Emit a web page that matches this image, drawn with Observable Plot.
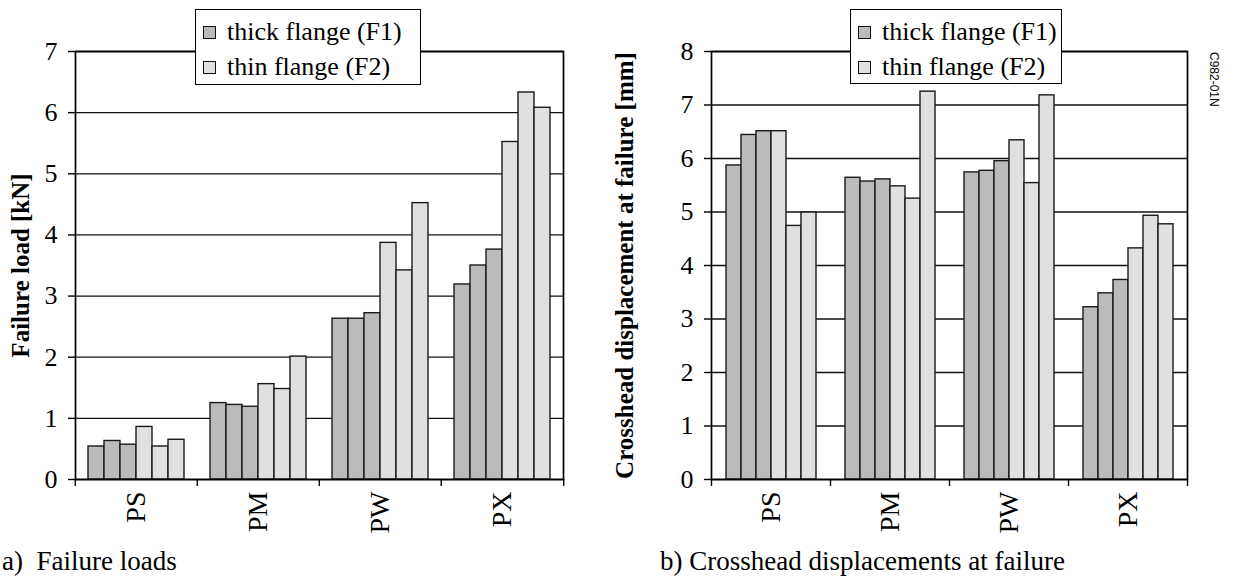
<!DOCTYPE html>
<html><head><meta charset="utf-8">
<script src="https://cdn.jsdelivr.net/npm/d3@7"></script>
<script src="https://cdn.jsdelivr.net/npm/@observablehq/plot@0.6"></script>
<style>
body{margin:0;background:#fff;}
#root{position:relative;width:1239px;height:585px;overflow:hidden;font-family:"Liberation Serif",serif;color:#000;}
.plot{position:absolute;top:0;}
.legend{position:absolute;background:#fff;border:1.5px solid #000;box-sizing:border-box;font-family:"Liberation Serif",serif;font-size:26px;line-height:35px;padding:4px 0 0 7px;white-space:nowrap;}
.sw{display:inline-block;width:11px;height:11px;border:1px solid #111;margin-right:11px;vertical-align:1px;}
.cap{position:absolute;font-family:"Liberation Serif",serif;font-size:27px;line-height:27px;white-space:pre;}
.code{position:absolute;font-family:"Liberation Sans",sans-serif;font-size:12px;writing-mode:vertical-rl;}
svg [aria-label="y-axis label"] text{font-weight:bold;font-size:25px;}
</style></head>
<body><div id="root"></div>
<script>
// Data
const categories = ["PS", "PM", "PW", "PX"];
const seriesNames = ["thick flange (F1)", "thin flange (F2)"];
const seriesFills = ["#bbbbbb", "#e0e0e0"];
// three specimens per category, in category order
const loadF1 = [0.54, 0.63, 0.57, 1.25, 1.22, 1.19, 2.63, 2.63, 2.72, 3.19, 3.50, 3.76];
const loadF2 = [0.86, 0.54, 0.65, 1.56, 1.48, 2.01, 3.87, 3.42, 4.52, 5.52, 6.33, 6.08];
const dispF1 = [5.87, 6.44, 6.51, 5.64, 5.57, 5.61, 5.74, 5.77, 5.95, 3.22, 3.48, 3.73];
const dispF2 = [6.51, 4.74, 4.99, 5.48, 5.25, 7.25, 6.34, 5.54, 7.18, 4.32, 4.93, 4.77];
const loadTicks = [0, 1, 2, 3, 4, 5, 6, 7];
const dispTicks = [0, 1, 2, 3, 4, 5, 6, 7, 8];
const keys = ["F1-0", "F1-1", "F1-2", "F2-0", "F2-1", "F2-2"];

function rows(f1, f2) {
  const out = [];
  categories.forEach((c, k) => {
    for (let j = 0; j < 3; j++) out.push({cat: c, key: "F1-" + j, series: seriesNames[0], value: f1[k * 3 + j]});
    for (let j = 0; j < 3; j++) out.push({cat: c, key: "F2-" + j, series: seriesNames[1], value: f2[k * 3 + j]});
  });
  return out;
}

function chart({data, ticks, label, width, marginLeft, marginRight, labelOffset}) {
  const band = (width - marginLeft - marginRight) / categories.length;
  return Plot.plot({
    width, height: 540, marginLeft, marginRight, marginTop: 51, marginBottom: 61,
    style: {fontFamily: '"Liberation Serif", serif', fontSize: "26px", color: "#000", background: "transparent", overflow: "visible"},
    fx: {domain: categories, padding: 0, label: null},
    x: {domain: keys, paddingInner: 0, paddingOuter: 0.73, axis: null},
    y: {domain: [0, ticks[ticks.length - 1]]},
    color: {domain: seriesNames, range: seriesFills},
    marks: [
      Plot.gridY({ticks, stroke: "#111", strokeOpacity: 1, strokeWidth: 1.3}),
      Plot.barY(data, {fx: "cat", x: "key", y: "value", fill: "series", stroke: "#1a1a1a", strokeWidth: 1.4, inset: 0}),
      Plot.frame({facet: "super", stroke: "#000", strokeWidth: 1.7}),
      Plot.axisY({ticks, tickSize: 7, tickPadding: 11, tickFormat: d3.format("d"), label, labelArrow: "none", labelAnchor: "center", labelOffset, stroke: "#000", strokeWidth: 1.4}),
      Plot.axisFx({anchor: "bottom", tickSize: 0, tickPadding: 12, tickRotate: -90, fontSize: 28, label: null}),
      Plot.axisFx({anchor: "bottom", tickSize: 7, tickFormat: () => "", dx: -band / 2, label: null, strokeWidth: 1.4}),
      Plot.axisFx({anchor: "bottom", ticks: [categories[categories.length - 1]], tickSize: 7, tickFormat: () => "", dx: band / 2, label: null, strokeWidth: 1.4})
    ]
  });
}

const root = document.getElementById("root");

const left = chart({data: rows(loadF1, loadF2), ticks: loadTicks, label: "Failure load [kN]", width: 580, marginLeft: 74, marginRight: 16, labelOffset: 64});
left.classList.add("plot"); left.style.left = "0px";
root.appendChild(left);

const right = chart({data: rows(dispF1, dispF2), ticks: dispTicks, label: "Crosshead displacement at failure [mm]", width: 649, marginLeft: 121, marginRight: 52, labelOffset: 96});
right.classList.add("plot"); right.style.left = "590px";
root.appendChild(right);

function legend(x, y, w, h) {
  const d = document.createElement("div");
  d.className = "legend";
  Object.assign(d.style, {left: x + "px", top: y + "px", width: w + "px", height: h + "px"});
  seriesNames.forEach((s, i) => {
    const r = document.createElement("div");
    const sw = document.createElement("span");
    sw.className = "sw"; sw.style.background = seriesFills[i];
    r.appendChild(sw); r.appendChild(document.createTextNode(s));
    d.appendChild(r);
  });
  root.appendChild(d);
}
legend(195, 9, 226, 76);
legend(850, 9, 212, 75);

function text(cls, s, x, y) {
  const d = document.createElement("div");
  d.className = cls; d.textContent = s;
  d.style.left = x + "px"; d.style.top = y + "px";
  root.appendChild(d);
}
text("cap", "a)  Failure loads", 2, 548);
text("cap", "b) Crosshead displacements at failure", 660, 548);
text("code", "C982-01N", 1207, 52);
</script>
</body></html>
